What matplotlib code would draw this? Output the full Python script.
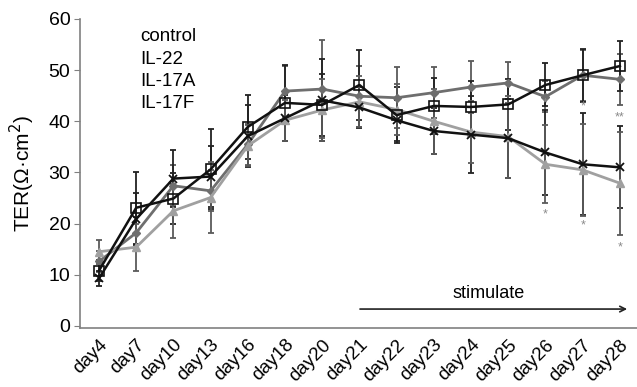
import numpy as np
import matplotlib
matplotlib.use('Agg')
import matplotlib.pyplot as plt
import matplotlib.transforms as mtransforms

plt.rcParams['font.family'] = ['Liberation Sans', 'DejaVu Sans']

# Data
days = ['day4', 'day7', 'day10', 'day13', 'day16', 'day18', 'day20', 'day21',
        'day22', 'day23', 'day24', 'day25', 'day26', 'day27', 'day28']
control = [12.6, 18.2, 27.4, 26.4, 35.5, 45.9, 46.3, 44.9, 44.6, 45.6, 46.7, 47.5, 44.8, 49.0, 48.2]
il22 = [10.8, 23.1, 24.9, 30.6, 38.9, 43.6, 43.2, 47.1, 41.2, 43.0, 42.8, 43.3, 47.1, 49.0, 50.8]
il17a = [9.3, 20.9, 28.8, 29.2, 37.1, 40.6, 44.1, 42.7, 40.2, 38.1, 37.4, 36.7, 33.9, 31.6, 31.0]
il17f = [14.5, 15.4, 22.5, 25.1, 35.2, 40.2, 42.2, 43.8, 42.3, 40.0, 37.9, 37.0, 31.6, 30.5, 27.9]

control_err = [2.0, 3.0, 4.0, 4.0, 4.0, 5.0, 9.6, 6.0, 6.0, 5.0, 5.0, 4.0, 3.0, 5.0, 5.0]
il22_err = [2.0, 7.0, 5.0, 7.8, 6.2, 7.4, 6.0, 6.8, 5.5, 5.5, 5.0, 5.0, 4.2, 5.2, 4.9]
il17a_err = [1.5, 5.0, 5.6, 6.0, 6.0, 4.5, 8.0, 4.0, 4.0, 4.5, 7.6, 7.7, 8.3, 10.0, 8.0]
il17f_err = [2.3, 4.6, 5.3, 7.0, 4.0, 4.0, 6.0, 5.0, 5.0, 6.4, 6.0, 8.0, 7.6, 9.0, 10.1]

labels = ['control', 'IL-22', 'IL-17A', 'IL-17F']

# significance marks (day index, y, text)
star_idx = [12, 12, 13, 13, 14, 14]
star_y = [43.5, 21.8, 43.0, 19.6, 40.7, 15.3]
star_txt = ['*', '*', '*', '*', '**', '*']

x = np.arange(len(days))

fig = plt.figure(figsize=(6.37, 3.87), dpi=100)
ax = fig.add_axes([0.1256, 0.1525, 0.8744, 0.7985])

# error bars first
ax.errorbar(x, control, yerr=control_err, fmt='none', ecolor='#5a5a5a', elinewidth=1.3, capsize=2, capthick=1.3)
ax.errorbar(x, il22, yerr=il22_err, fmt='none', ecolor='#222222', elinewidth=1.3, capsize=2, capthick=1.3)
ax.errorbar(x, il17a, yerr=il17a_err, fmt='none', ecolor='#222222', elinewidth=1.3, capsize=2, capthick=1.3)
ax.errorbar(x, il17f, yerr=il17f_err, fmt='none', ecolor='#5a5a5a', elinewidth=1.3, capsize=2, capthick=1.3)

ax.plot(x, control, color='#6e6e6e', lw=2, marker='D', ms=4, mfc='#6e6e6e', mec='#6e6e6e')
ax.plot(x, il17f, color='#a0a0a0', lw=2, marker='^', ms=6, mfc='#a0a0a0', mec='#a0a0a0')
ax.plot(x, il22, color='#111111', lw=1.8, marker='s', ms=7, mfc='none', mec='#111111', mew=1.2)
ax.plot(x, il17a, color='#111111', lw=1.8, marker='x', ms=6, mec='#111111', mew=1.3)

for i, yy, t in zip(star_idx, star_y, star_txt):
    ax.text(x[i], yy, t, color='#8a8a8a', fontsize=9, ha='center', va='center')

# stimulate arrow
ax.annotate('', xy=(14.27, 3.3), xytext=(6.94, 3.3),
            arrowprops=dict(arrowstyle='->', color='#222222', lw=1.2))
ax.text(10.46, 5.5, 'stimulate', fontsize=13, ha='center', va='baseline')

# text legend
for k, lab in enumerate(labels):
    ax.text(1.1, 55.6 - 4.35 * k, lab, fontsize=13.5, ha='left', va='baseline')

ax.set_xlim(-0.51, 14.46)
ax.set_ylim(-0.4, 60)
ax.set_yticks([0, 10, 20, 30, 40, 50, 60])
ax.set_xticks(x)
ax.set_xticklabels(days, rotation=45, ha='right', rotation_mode='anchor', fontsize=13.5)
shift = mtransforms.ScaledTranslation(3 / 100, 0, fig.dpi_scale_trans)
for lbl in ax.get_xticklabels():
    lbl.set_transform(lbl.get_transform() + shift)
ax.tick_params(axis='x', length=0, pad=6)
ax.tick_params(axis='y', length=4, color='#808080', labelsize=14, pad=3)
for s in ['top', 'right']:
    ax.spines[s].set_visible(False)
for s in ['left', 'bottom']:
    ax.spines[s].set_color('#808080')
    ax.spines[s].set_linewidth(1.2)
ax.set_ylabel('TER(Ω·cm$^2$)', fontsize=15, labelpad=8)

fig.savefig('out.png', dpi=100)
